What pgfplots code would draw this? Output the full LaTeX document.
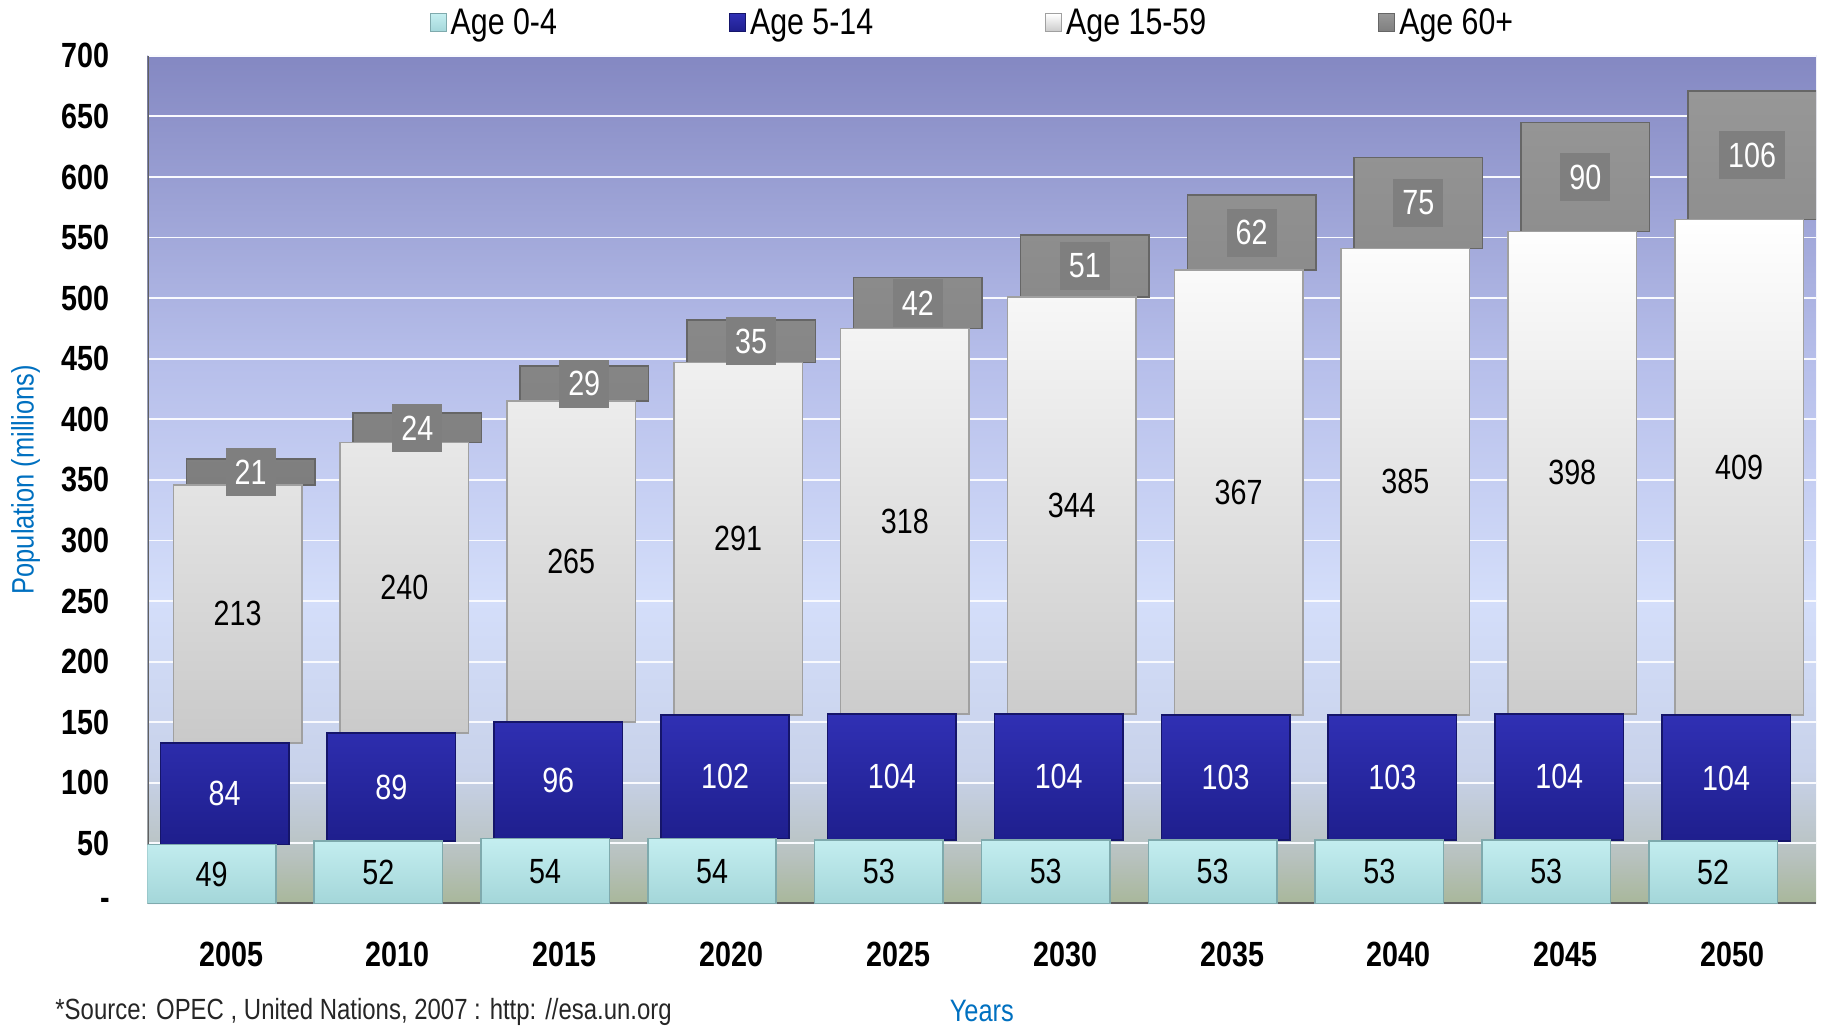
\documentclass[border=0pt]{standalone}
\usepackage{pgfplots}
\pgfplotsset{compat=1.18}
\usepackage{pgfplotstable}
\usepackage{fontspec}
\setmainfont{Liberation Sans}[FakeStretch=0.82]
\definecolor{bg0}{HTML}{A8B79A}
\definecolor{bg40}{HTML}{B8C2C0}
\definecolor{bg110}{HTML}{C8D2EA}
\definecolor{bg250}{HTML}{D4DEFA}
\definecolor{bg450}{HTML}{B6BEEA}
\definecolor{bgtop}{HTML}{8488C2}
\definecolor{aTop}{HTML}{C4EEF0}
\definecolor{aBot}{HTML}{A3D6D9}
\definecolor{aEdge}{HTML}{7FAAAD}
\definecolor{bTop}{HTML}{3030B4}
\definecolor{bBot}{HTML}{1E1E8C}
\definecolor{bEdge}{HTML}{15156A}
\definecolor{cBot}{HTML}{C9C9C9}
\definecolor{cEdge}{HTML}{A0A0A0}
\definecolor{dTop}{HTML}{979797}
\definecolor{dBot}{HTML}{7E7E7E}
\definecolor{dEdge}{HTML}{666666}
\definecolor{dBox}{HTML}{7F7F7F}
\definecolor{titleblue}{HTML}{0070C0}
\pgfdeclareverticalshading{plotbg}{100bp}{color(0bp)=(bg0); color(25bp)=(bg0); color(27.9bp)=(bg40); color(32.9bp)=(bg110); color(42.9bp)=(bg250); color(57.1bp)=(bg450); color(75bp)=(bgtop); color(100bp)=(bgtop)}

\pgfplotstableread{
x a b c d
0 49 84 213 21
1 52 89 240 24
2 54 96 265 29
3 54 102 291 35
4 53 104 318 42
5 53 104 344 51
6 53 103 367 62
7 53 103 385 75
8 53 104 398 90
9 52 104 409 106
}\data

\begin{document}
\begin{tikzpicture}
\begin{axis}[
  scale only axis, width=834pt, height=424pt,
  ybar stacked, bar width=0.77,
  xmin=-0.5, xmax=9.5, ymin=0, ymax=700,
  enlarge x limits=false, enlarge y limits=false,
  xtick={0,...,9},
  xticklabels={2005,2010,2015,2020,2025,2030,2035,2040,2045,2050},
  ytick={0,50,...,700},
  yticklabels={-,50,100,150,200,250,300,350,400,450,500,550,600,650,700},
  major tick length=0pt,
  /pgf/number format/assume math mode=true,
  ticklabel style={font=\fontsize{17.5}{20}\selectfont\bfseries},
  xticklabel style={anchor=north, inner sep=0pt, yshift=-19pt},
  yticklabel style={anchor=east, inner sep=0pt, xshift=-18.8pt},
  axis line style={draw=none},
  ymajorgrids, grid style={draw=white!85!bg250, line width=0.9pt},
  axis background/.style={shade, shading=plotbg},
  legend columns=4,
  legend style={at={(0.495,1)}, anchor=center, yshift=16.4pt, draw=none, fill=none,
    font=\fontsize{18.5}{21}\selectfont,
    nodes={inner xsep=2pt, inner ysep=1pt},
    /tikz/every even column/.append style={column sep=84pt}},
  legend image code/.code={\draw[#1,line width=0.5pt] (-1pt,-4.5pt) rectangle (7pt,4.5pt);},
  nodes near coords,
  point meta=explicit,
  every node near coord/.append style={anchor=center, font=\fontsize{17.5}{20}\selectfont},
]
\addplot[bar shift=-0.117, top color=aTop, bottom color=aBot, draw=aEdge, line width=0.8pt,
  every node near coord/.append style={text=black}]
  table[x=x, y=a, meta=a] {\data};
\addplot[bar shift=-0.039, top color=bTop, bottom color=bBot, draw=bEdge, line width=0.8pt,
  every node near coord/.append style={text=white}]
  table[x=x, y=b, meta=b] {\data};
\addplot[bar shift=0.039, top color=white, bottom color=cBot, draw=cEdge, line width=0.8pt,
  every node near coord/.append style={text=black}]
  table[x=x, y=c, meta=c] {\data};
\addplot[bar shift=0.117, top color=dTop, bottom color=dBot, draw=dEdge, line width=0.8pt,
  every node near coord/.append style={text=white, fill=dBox, inner xsep=4.5pt, minimum height=24pt}]
  table[x=x, y=d, meta=d] {\data};
\legend{Age 0-4, Age 5-14, Age 15-59, Age 60+}
\draw[gray!75!black, line width=1.5pt] (rel axis cs:0,1) -- (rel axis cs:0,0) -- (rel axis cs:1,0);
\coordinate (sw) at (rel axis cs:0,0);
\coordinate (ne) at (rel axis cs:1,1);
\coordinate (w) at (rel axis cs:0,0.5);
\coordinate (s) at (rel axis cs:0.5,0);
\end{axis}
\node[rotate=90, text=titleblue, font=\fontsize{15.5}{18}\selectfont] at ([xshift=-61pt]w) {Population (millions)};
\node[text=titleblue, font=\fontsize{15.5}{18}\selectfont] at ([yshift=-53.5pt]s) {Years};
\node[anchor=base west, inner sep=0pt, font=\fontsize{14.6}{18}\selectfont, text=black!85] at ([xshift=-46.3pt, yshift=-57.5pt]sw) {*Source: OPEC , United Nations, 2007 : http: //esa.un.org};
\pgfresetboundingbox
\path ([xshift=-73.8pt,yshift=-60.5pt]sw) rectangle ([xshift=3pt,yshift=27.9pt]ne);
\end{tikzpicture}
\end{document}
